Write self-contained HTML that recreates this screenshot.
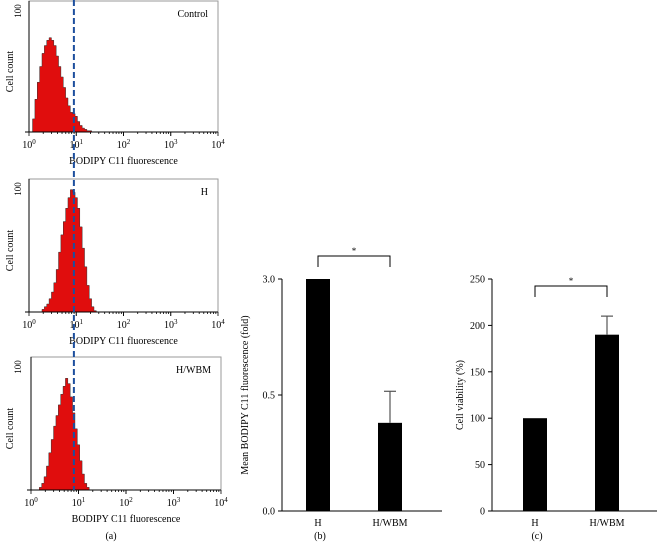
<!DOCTYPE html>
<html><head><meta charset="utf-8"><style>
html,body{margin:0;padding:0;background:#fff}
svg{display:block;font-family:"Liberation Serif",serif}
</style></head><body>
<svg id="fig" width="658" height="548" viewBox="0 0 658 548" xmlns="http://www.w3.org/2000/svg"></svg>
<script>
// ---------- data ----------
const histBinsLog = [0.05,0.10,0.15,0.20,0.25,0.30,0.35,0.40,0.45,0.50,0.55,0.60,0.65,0.70,0.75,0.80,0.85,0.90,0.95,1.00,1.05,1.10,1.15,1.20,1.25,1.30,1.35,1.40,1.45,1.50];
const controlCounts = [0,10,25,38,50,60,66,70,72,70,66,58,50,42,34,26,20,15,14,12,8,5,3,2,1,1,0,0,0,0];
const hCounts       = [0,0,0,0,0,2,4,6,10,15,22,32,45,58,68,78,86,92,90,86,78,64,48,34,20,10,4,1,0,0];
const wbmCounts     = [0,0,0,2,5,10,18,28,38,48,56,64,72,78,84,80,70,58,46,34,22,12,5,2,0,0,0,0,0,0];
const panelLabels = ["Control","H","H/WBM"];
const decadeLabels = ["0","1","2","3","4"];
const gateLog = 0.95;

const barCategories = ["H","H/WBM"];
const bodipyValues = [3.0,0.38];
const bodipyErrors = [0,0.58];
const bodipyTickLabels = ["0.0","0.5","3.0"];
const bodipyTickValues = [0,0.5,3.0];
const viabilityValues = [100,190];
const viabilityErrors = [0,210];
const viabilityTicks = [0,50,100,150,200,250];

// ---------- helpers ----------
const svg=document.getElementById('fig');
const NS='http://www.w3.org/2000/svg';
function mk(tag,attrs,parent){const e=document.createElementNS(NS,tag);for(const k in attrs)e.setAttribute(k,attrs[k]);(parent||svg).appendChild(e);return e;}
function txt(s,attrs,parent){const e=mk('text',attrs,parent);e.textContent=s;return e;}

// ---------- histograms ----------
const panels=[
 {top:1,bottom:132,left:29,right:218,counts:controlCounts},
 {top:179,bottom:312,left:29,right:218,counts:hCounts},
 {top:357,bottom:490,left:31,right:221,counts:wbmCounts}
];
panels.forEach((p,i)=>{
 const g=mk('g',{});
 
 
 const dec=(p.right-p.left)/4;
 const xs=l=>p.left+l*dec;
 const ys=c=>p.bottom-c/100*(p.bottom-p.top);
 mk('rect',{x:p.left,y:p.top,width:p.right-p.left,height:p.bottom-p.top,fill:'none',stroke:'#9a9a9a','stroke-width':1},g);
 // histogram area
 let d='M'+xs(histBinsLog[0]-0.025)+','+p.bottom;
 histBinsLog.forEach((l,k)=>{const y=ys(p.counts[k]);d+=' L'+xs(l-0.025)+','+y+' L'+xs(l+0.025)+','+y;});
 d+=' L'+xs(histBinsLog[histBinsLog.length-1]+0.025)+','+p.bottom+' Z';
 const area=mk('path',{d:d,fill:'#e00d0d',stroke:'#333','stroke-width':0.5},g);
 
 
 // axes
 mk('line',{x1:p.left,y1:p.top,x2:p.left,y2:p.bottom,stroke:'#000','stroke-width':1},g);
 mk('line',{x1:p.left-4,y1:p.bottom,x2:p.right,y2:p.bottom,stroke:'#000','stroke-width':1},g);
 for(let dd=0;dd<4;dd++){for(let m=1;m<=10;m++){const x=xs(dd+Math.log10(m));mk('line',{x1:x,y1:p.bottom,x2:x,y2:p.bottom+(m===1||m===10?4:2),stroke:'#000','stroke-width':0.8},g);}}
 decadeLabels.forEach((s,k)=>{const t=txt('',{x:xs(k),y:p.bottom+16,'font-size':10,'text-anchor':'middle'},g);t.innerHTML='10<tspan dy="-4" font-size="7">'+s+'</tspan>';});
 const xt=txt('BODIPY C11 fluorescence',{x:(p.left+p.right)/2,y:p.bottom+32,'font-size':10,'text-anchor':'middle'},g);
 
 const yt=txt('Cell count',{x:0,y:0,'font-size':10,'text-anchor':'middle',transform:'translate(13,'+((p.top+p.bottom)/2+5)+') rotate(-90)'},g);
 
 txt('100',{x:0,y:0,'font-size':9,'text-anchor':'middle',transform:'translate(21,'+(p.top+10)+') rotate(-90)'},g);
 const pl=txt(panelLabels[i],{x:p.right-10,y:p.top+16,'font-size':10,'text-anchor':'end'},g);
 
});
const gx=panels[0].left+gateLog*(panels[0].right-panels[0].left)/4;
const gate=mk('line',{x1:74,y1:0,x2:74,y2:490,stroke:'#1d4f9e','stroke-width':2,'stroke-dasharray':'6,3'});
gate.setAttribute('x1',gx);gate.setAttribute('x2',gx);

const la=txt('(a)',{x:111,y:539,'font-size':10,'text-anchor':'middle'});


// ---------- bar charts ----------
function barChart(cfg){
 const g=mk('g',{});
 
 
 const y=cfg.yScale;
 mk('line',{x1:cfg.axisX,y1:y(cfg.tickValues[cfg.tickValues.length-1]),x2:cfg.axisX,y2:511,stroke:'#000','stroke-width':1},g);
 mk('line',{x1:cfg.axisX,y1:511,x2:cfg.axisEnd,y2:511,stroke:'#000','stroke-width':1},g);
 cfg.tickValues.forEach((v,k)=>{const yy=y(v);mk('line',{x1:cfg.axisX-4,y1:yy,x2:cfg.axisX,y2:yy,stroke:'#000'},g);
   txt(cfg.tickLabels[k],{x:cfg.axisX-7,y:yy+3.5,'font-size':10,'text-anchor':'end'},g);});
 cfg.values.forEach((v,k)=>{
   const cx=cfg.centers[k];
   const b=mk('rect',{x:cx-12,y:y(v),width:24,height:511-y(v),fill:'#000'},g);
   
   
   if(cfg.errors[k]>v){mk('line',{x1:cx,y1:y(v),x2:cx,y2:y(cfg.errors[k]),stroke:'#555','stroke-width':1.2},g);
     mk('line',{x1:cx-6,y1:y(cfg.errors[k]),x2:cx+6,y2:y(cfg.errors[k]),stroke:'#555','stroke-width':1.2},g);}
   txt(barCategories[k],{x:cx,y:526,'font-size':10,'text-anchor':'middle'},g);
 });
 const br=mk('path',{d:'M'+cfg.centers[0]+','+(cfg.brY+11)+' V'+cfg.brY+' H'+cfg.centers[1]+' V'+(cfg.brY+11),fill:'none',stroke:'#000','stroke-width':1},g);
 
 txt('*',{x:(cfg.centers[0]+cfg.centers[1])/2,y:cfg.brY-2,'font-size':9,'text-anchor':'middle'},g);
 const yt=txt(cfg.ylabel,{x:0,y:0,'font-size':10,'text-anchor':'middle',transform:'translate('+cfg.ylabelX+',395) rotate(-90)'},g);
 
 const pl=txt(cfg.panel,{x:cfg.panelX,y:539,'font-size':10,'text-anchor':'middle'},g);
 
}
// piecewise scale for broken-like axis in (b)
function bScale(v){
 const pos=[511,395,279];
 for(let k=0;k<bodipyTickValues.length-1;k++){
  const a=bodipyTickValues[k],b=bodipyTickValues[k+1];
  if(v<=b||k===bodipyTickValues.length-2){return pos[k]+(v-a)/(b-a)*(pos[k+1]-pos[k]);}
 }
}
barChart({name:'chart-b',yScale:bScale,axisX:282,axisEnd:442,tickValues:bodipyTickValues,tickLabels:bodipyTickLabels,
 values:bodipyValues,errors:bodipyErrors,centers:[318,390],brY:256,ylabel:'Mean BODIPY C11 fluorescence (fold)',ylabelX:248,panel:'(b)',panelX:320});
barChart({name:'chart-c',yScale:v=>511-v/250*232,axisX:492,axisEnd:657,tickValues:viabilityTicks,tickLabels:viabilityTicks.map(String),
 values:viabilityValues,errors:viabilityErrors,centers:[535,607],brY:286,ylabel:'Cell viability (%)',ylabelX:463,panel:'(c)',panelX:537});
</script>
</body></html>
